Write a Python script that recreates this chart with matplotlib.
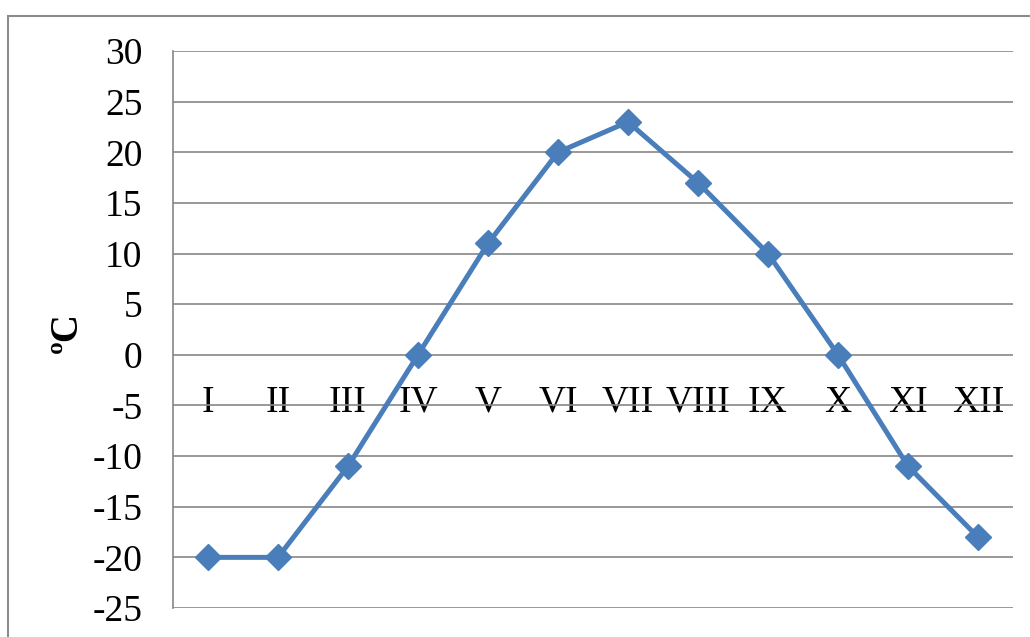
import matplotlib
matplotlib.use("Agg")
import matplotlib.pyplot as plt
from matplotlib.patches import Rectangle

months = ["I", "II", "III", "IV", "V", "VI", "VII", "VIII", "IX", "X", "XI", "XII"]
temps = [-20, -20, -11, 0, 11, 20, 23, 17, 10, 0, -11, -18]
yticks = [-25, -20, -15, -10, -5, 0, 5, 10, 15, 20, 25, 30]

plt.rcParams['font.family'] = ['Liberation Serif', 'DejaVu Serif']

fig = plt.figure(figsize=(10.30, 6.37), dpi=100)
ax = fig.add_axes([173/1030, 1 - 608/637, 840/1030, 557/637])

# outer chart frame
fig.patches.append(Rectangle((8/1030, -0.1), 1.2, 1 - 16/637 + 0.1,
                             transform=fig.transFigure, fill=False,
                             edgecolor='#8c8c8c', linewidth=1.5))

x = list(range(len(months)))
ax.plot(x, temps, color='#4a7ebb', linewidth=3.6, marker='D', markersize=13,
        zorder=3, clip_on=False)

ax.set_xlim(-0.5, 11.5)
ax.set_ylim(-25, 30)
ax.set_yticks(yticks)
ax.set_yticklabels([str(v) for v in yticks])
ax.yaxis.grid(True, color='#868686', linewidth=1.2)
ax.set_axisbelow(True)

ax.set_xticks(x)
ax.set_xticklabels(months)
ax.spines['bottom'].set_position(('data', 0))
ax.spines['bottom'].set_visible(False)
ax.spines['top'].set_visible(False)
ax.spines['right'].set_visible(False)
ax.spines['left'].set_color('#868686')
ax.spines['left'].set_linewidth(1.2)

ax.tick_params(axis='x', length=0, pad=22, labelsize=27)
ax.tick_params(axis='y', length=0, pad=22, labelsize=27)

ax.set_ylabel("ºC", fontsize=28, fontweight='bold')
ax.yaxis.set_label_coords(-0.104, 0.495)

fig.savefig("out.png", dpi=100)
